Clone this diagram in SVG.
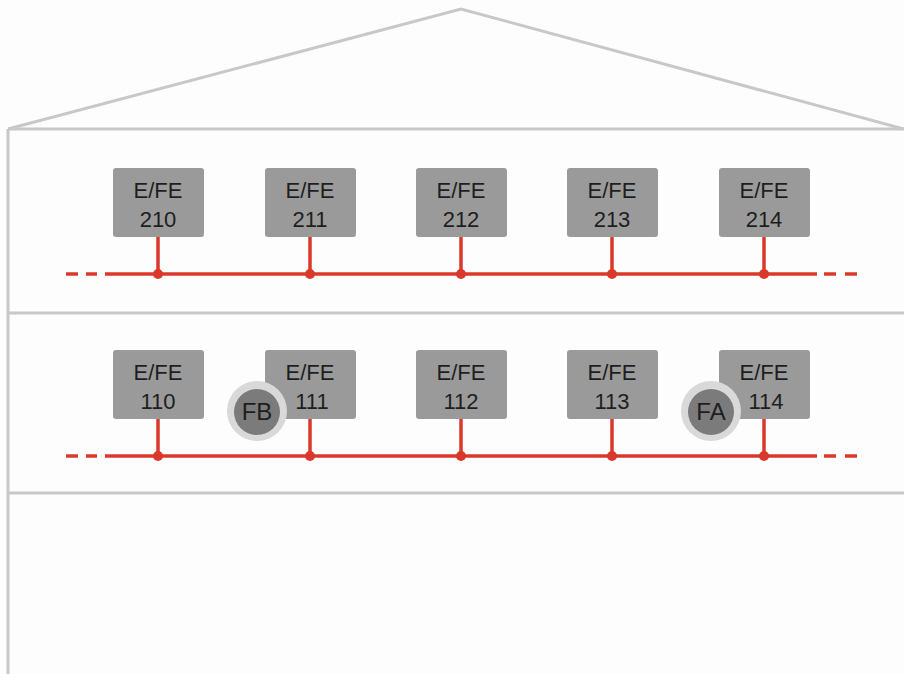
<svg xmlns="http://www.w3.org/2000/svg" width="904" height="674" viewBox="0 0 904 674">
<style>
.wall{fill:none;stroke:#c8c8c8;stroke-width:3}
.box{fill:#9a9a9a}
.lbl{font-family:"Liberation Sans",Arial,sans-serif;font-size:22px;fill:#1e1e1e;text-anchor:middle}
.bus{stroke:#d8392b;stroke-width:3.5;fill:none}
.dash{stroke:#d8392b;stroke-width:3.5;fill:none}
.dot{fill:#d8392b}
.ring{fill:#d9d9d9}
.det{fill:#7b7b7b}
.dl{font-family:"Liberation Sans",Arial,sans-serif;font-size:24px;fill:#1e1e1e;text-anchor:middle}
</style>
<rect width="904" height="674" fill="#fdfdfd"/>
<g id="building">
<polyline class="wall" points="8,129 461,9 904,129"/>
<line class="wall" x1="8" y1="129" x2="904" y2="129"/>
<line class="wall" x1="8" y1="129" x2="8" y2="674"/>
<line class="wall" x1="8" y1="313" x2="904" y2="313"/>
<line class="wall" x1="8" y1="493" x2="904" y2="493"/>
</g>
<g id="connectors">
<line class="bus" x1="105" y1="274" x2="817" y2="274"/>
<line class="dash" x1="66" y1="274" x2="78" y2="274"/><line class="dash" x1="86" y1="274" x2="97" y2="274"/>
<line class="dash" x1="824" y1="274" x2="836" y2="274"/><line class="dash" x1="845" y1="274" x2="857" y2="274"/>
<line class="bus" x1="105" y1="456" x2="817" y2="456"/>
<line class="dash" x1="66" y1="456" x2="78" y2="456"/><line class="dash" x1="86" y1="456" x2="97" y2="456"/>
<line class="dash" x1="824" y1="456" x2="836" y2="456"/><line class="dash" x1="845" y1="456" x2="857" y2="456"/>
<line class="bus" x1="158" y1="236" x2="158" y2="274"/>
<line class="bus" x1="310" y1="236" x2="310" y2="274"/>
<line class="bus" x1="461" y1="236" x2="461" y2="274"/>
<line class="bus" x1="612" y1="236" x2="612" y2="274"/>
<line class="bus" x1="764" y1="236" x2="764" y2="274"/>
<line class="bus" x1="158" y1="418" x2="158" y2="456"/>
<line class="bus" x1="310" y1="418" x2="310" y2="456"/>
<line class="bus" x1="461" y1="418" x2="461" y2="456"/>
<line class="bus" x1="612" y1="418" x2="612" y2="456"/>
<line class="bus" x1="764" y1="418" x2="764" y2="456"/>
<circle class="dot" cx="158" cy="274" r="5"/><circle class="dot" cx="310" cy="274" r="5"/><circle class="dot" cx="461" cy="274" r="5"/><circle class="dot" cx="612" cy="274" r="5"/><circle class="dot" cx="764" cy="274" r="5"/>
<circle class="dot" cx="158" cy="456" r="5"/><circle class="dot" cx="310" cy="456" r="5"/><circle class="dot" cx="461" cy="456" r="5"/><circle class="dot" cx="612" cy="456" r="5"/><circle class="dot" cx="764" cy="456" r="5"/>
</g>
<g id="n210"><rect class="box" x="113" y="168" width="91" height="69" rx="3"/><text class="lbl" x="158" y="198">E/FE</text><text class="lbl" x="158" y="227">210</text></g>
<g id="n211"><rect class="box" x="265" y="168" width="91" height="69" rx="3"/><text class="lbl" x="310" y="198">E/FE</text><text class="lbl" x="310" y="227">211</text></g>
<g id="n212"><rect class="box" x="416" y="168" width="91" height="69" rx="3"/><text class="lbl" x="461" y="198">E/FE</text><text class="lbl" x="461" y="227">212</text></g>
<g id="n213"><rect class="box" x="567" y="168" width="91" height="69" rx="3"/><text class="lbl" x="612" y="198">E/FE</text><text class="lbl" x="612" y="227">213</text></g>
<g id="n214"><rect class="box" x="719" y="168" width="91" height="69" rx="3"/><text class="lbl" x="764" y="198">E/FE</text><text class="lbl" x="764" y="227">214</text></g>
<g id="n110"><rect class="box" x="113" y="350" width="91" height="69" rx="3"/><text class="lbl" x="158" y="380">E/FE</text><text class="lbl" x="158" y="409">110</text></g>
<g id="n111"><rect class="box" x="265" y="350" width="91" height="69" rx="3"/><text class="lbl" x="310" y="380">E/FE</text><text class="lbl" x="312" y="409">111</text></g>
<g id="n112"><rect class="box" x="416" y="350" width="91" height="69" rx="3"/><text class="lbl" x="461" y="380">E/FE</text><text class="lbl" x="461" y="409">112</text></g>
<g id="n113"><rect class="box" x="567" y="350" width="91" height="69" rx="3"/><text class="lbl" x="612" y="380">E/FE</text><text class="lbl" x="612" y="409">113</text></g>
<g id="n114"><rect class="box" x="719" y="350" width="91" height="69" rx="3"/><text class="lbl" x="764" y="380">E/FE</text><text class="lbl" x="766" y="409">114</text></g>
<g id="FB"><circle class="ring" cx="257" cy="411" r="30"/><circle class="det" cx="257" cy="412" r="23"/><text class="dl" x="257" y="420">FB</text></g>
<g id="FA"><circle class="ring" cx="711" cy="411" r="30"/><circle class="det" cx="711" cy="412" r="23"/><text class="dl" x="711" y="420">FA</text></g>
</svg>
